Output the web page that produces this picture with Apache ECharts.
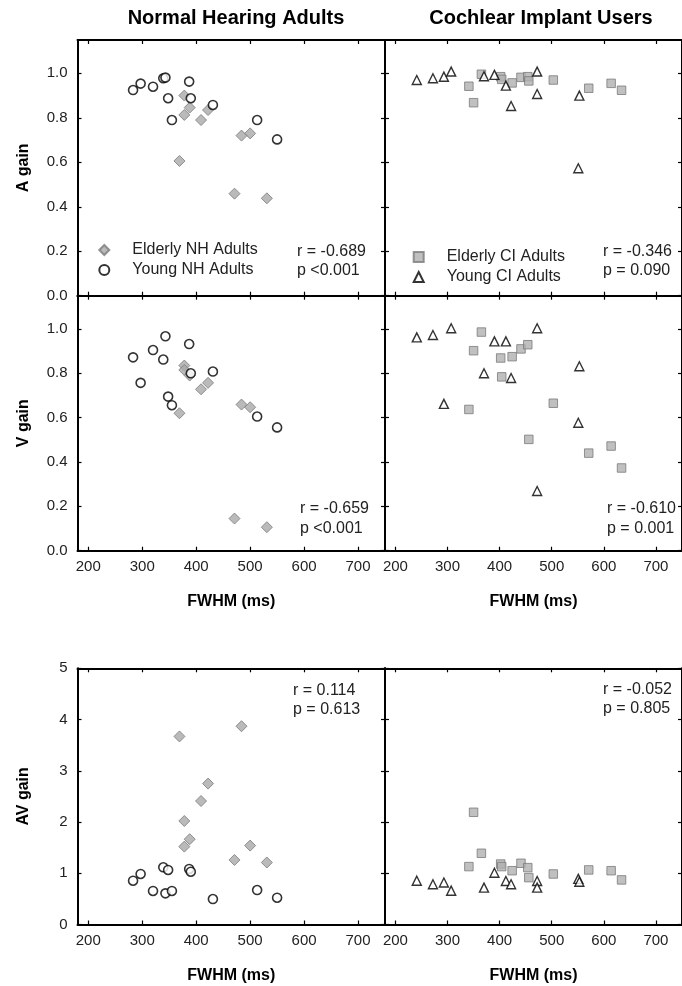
<!DOCTYPE html>
<html><head><meta charset="utf-8">
<script src="https://cdn.jsdelivr.net/npm/echarts@6/dist/echarts.min.js"></script>
<style>html,body{margin:0;padding:0;background:#fff}#c{width:682px;height:986px}</style>
</head><body><div id="c"></div>
<script>
// ---- Data ----
const xTicks = [200, 300, 400, 500, 600, 700];
const gainTicks = [0, 0.2, 0.4, 0.6, 0.8, 1.0];
const avTicks = [0, 1, 2, 3, 4, 5];

const nhElderlyFWHM = [369, 378, 378, 388, 409, 422, 471, 484, 500, 531];
const nhElderlyA    = [0.606, 0.90, 0.813, 0.846, 0.79, 0.835, 0.459, 0.72, 0.73, 0.438];
const nhElderlyV    = [0.62, 0.835, 0.815, 0.79, 0.728, 0.757, 0.145, 0.659, 0.647, 0.106];
const nhElderlyAV   = [3.67, 2.02, 1.52, 1.665, 2.41, 2.75, 1.26, 3.87, 1.54, 1.21];

const nhYoungFWHM = [283, 297, 320, 339, 343, 348, 355, 387, 390, 431, 513, 550];
const nhYoungA    = [0.925, 0.954, 0.94, 0.978, 0.981, 0.888, 0.79, 0.963, 0.888, 0.858, 0.79, 0.703];
const nhYoungV    = [0.872, 0.757, 0.905, 0.862, 0.967, 0.695, 0.656, 0.932, 0.80, 0.808, 0.605, 0.556];
const nhYoungAV   = [0.855, 0.986, 0.654, 1.117, 0.608, 1.065, 0.654, 1.084, 1.03, 0.497, 0.673, 0.523];

const ciElderlyFWHM = [341, 350, 365, 402, 404, 424, 441, 454, 456, 503, 571, 614, 634];
const ciElderlyA    = [0.942, 0.868, 0.996, 0.985, 0.973, 0.957, 0.982, 0.985, 0.966, 0.97, 0.933, 0.955, 0.924];
const ciElderlyV    = [0.637, 0.902, 0.986, 0.869, 0.784, 0.875, 0.91, 0.929, 0.502, 0.665, 0.44, 0.472, 0.373];
const ciElderlyAV   = [1.13, 2.19, 1.39, 1.18, 1.13, 1.05, 1.195, 1.11, 0.915, 0.986, 1.065, 1.05, 0.87];

const ciYoungFWHM = [241, 272, 293, 307, 370, 390, 412, 422, 472, 472, 551, 553];
const ciYoungA    = [0.97, 0.978, 0.985, 1.008, 0.987, 0.993, 0.945, 0.853, 1.008, 0.907, 0.573, 0.90];
const ciYoungV    = [0.962, 0.973, 0.662, 1.003, 0.80, 0.944, 0.944, 0.779, 1.003, 0.269, 0.577, 0.832];
const ciYoungAV   = [0.855, 0.785, 0.82, 0.66, 0.72, 1.01, 0.85, 0.785, 0.85, 0.72, 0.89, 0.835];

const statsText = [
  ['r = -0.689', 'p <0.001'], ['r = -0.346', 'p = 0.090'],
  ['r = -0.659', 'p <0.001'], ['r = -0.610', 'p = 0.001'],
  ['r = 0.114', 'p = 0.613'], ['r = -0.052', 'p = 0.805']
];

// ---- Layout ----
const FONT = '"Liberation Sans", Arial, sans-serif';
const gridDefs = [
  {left: 77.5, top: 40, width: 307.5, height: 255.7},
  {left: 385, top: 40, width: 307.5, height: 255.7},
  {left: 77.5, top: 295.7, width: 307.5, height: 255},
  {left: 385, top: 295.7, width: 307.5, height: 255},
  {left: 77.5, top: 668.3, width: 307.5, height: 256.2},
  {left: 385, top: 668.3, width: 307.5, height: 256.2}
];
const statPos = [
  [297, 253, 272], [603, 253, 272],
  [300, 510, 529.5], [607, 510, 530],
  [293, 692, 711], [603, 691, 710]
];

const zip = (xs, ys) => xs.map((x, i) => [x, ys[i]]);
const lineStyle = {color: '#000', width: 2};
const tickStyle = {color: '#000', width: 1.2};

const xAxis = [], yAxis = [], series = [];
gridDefs.forEach((g, i) => {
  const left = i % 2 === 0;
  const row = Math.floor(i / 2);
  const showX = row >= 1;
  const isAV = row === 2;
  xAxis.push({
    gridIndex: i, type: 'value', min: 180, max: 750, position: 'bottom',
    axisLine: {show: true, lineStyle, onZero: false},
    axisTick: {show: true, inside: true, length: 4, lineStyle: tickStyle, customValues: xTicks},
    axisLabel: {show: showX, customValues: xTicks, color: '#222', fontSize: 15, fontFamily: FONT, margin: 9},
    splitLine: {show: false},
    name: showX ? 'FWHM (ms)' : '', nameLocation: 'middle', nameGap: 43,
    nameTextStyle: {fontSize: 16, fontWeight: 'bold', color: '#000', fontFamily: FONT}
  });
  xAxis.push({
    gridIndex: i, type: 'value', min: 180, max: 750, position: 'top',
    axisLine: {show: true, lineStyle, onZero: false},
    axisTick: {show: true, inside: true, length: 4, lineStyle: tickStyle, customValues: xTicks},
    axisLabel: {show: false}, splitLine: {show: false}
  });
  const yt = isAV ? avTicks : gainTicks;
  const yname = ['A gain', 'V gain', 'AV gain'][row];
  yAxis.push({
    gridIndex: i, type: 'value', min: 0, max: isAV ? 5 : 1.15, position: 'left',
    axisLine: {show: true, lineStyle, onZero: false},
    axisTick: {show: true, inside: true, length: 4, lineStyle: tickStyle, customValues: yt},
    axisLabel: {show: left, customValues: yt, color: '#222', fontSize: 15, fontFamily: FONT, margin: 10,
      formatter: v => isAV ? String(v) : v.toFixed(1)},
    splitLine: {show: false},
    name: left ? yname : '', nameLocation: 'middle', nameGap: 46, nameRotate: 90,
    nameTextStyle: {fontSize: 16, fontWeight: 'bold', color: '#000', fontFamily: FONT}
  });
  yAxis.push({
    gridIndex: i, type: 'value', min: 0, max: isAV ? 5 : 1.15, position: 'right',
    axisLine: {show: true, lineStyle, onZero: false},
    axisTick: {show: true, inside: true, length: 4, lineStyle: tickStyle, customValues: yt},
    axisLabel: {show: false}, splitLine: {show: false}
  });
});

const diamondStyle = {symbol: 'diamond', symbolSize: 11, itemStyle: {color: '#a9a9a9', borderColor: '#7a7a7a', borderWidth: 1}};
const circleStyle = {symbol: 'circle', symbolSize: 9, itemStyle: {color: '#fff', borderColor: '#000', borderWidth: 1.6}};
const squareStyle = {symbol: 'rect', symbolSize: 8.5, itemStyle: {color: '#b0b0b0', borderColor: '#7a7a7a', borderWidth: 1}};
const triStyle = {symbol: 'triangle', symbolSize: 9, itemStyle: {color: '#fff', borderColor: '#000', borderWidth: 1.4}};

function addSeries(gi, name, xs, ys, st) {
  series.push(Object.assign({
    type: 'scatter', name, xAxisIndex: gi * 2, yAxisIndex: gi * 2, data: zip(xs, ys),
    animation: false, emphasis: {disabled: true}
  }, JSON.parse(JSON.stringify(st))));
}
addSeries(0, 'Elderly NH Adults', nhElderlyFWHM, nhElderlyA, diamondStyle);
addSeries(0, 'Young NH Adults', nhYoungFWHM, nhYoungA, circleStyle);
addSeries(1, 'Elderly CI Adults', ciElderlyFWHM, ciElderlyA, squareStyle);
addSeries(1, 'Young CI Adults', ciYoungFWHM, ciYoungA, triStyle);
addSeries(2, 'Elderly NH Adults', nhElderlyFWHM, nhElderlyV, diamondStyle);
addSeries(2, 'Young NH Adults', nhYoungFWHM, nhYoungV, circleStyle);
addSeries(3, 'Elderly CI Adults', ciElderlyFWHM, ciElderlyV, squareStyle);
addSeries(3, 'Young CI Adults', ciYoungFWHM, ciYoungV, triStyle);
addSeries(4, 'Elderly NH Adults', nhElderlyFWHM, nhElderlyAV, diamondStyle);
addSeries(4, 'Young NH Adults', nhYoungFWHM, nhYoungAV, circleStyle);
addSeries(5, 'Elderly CI Adults', ciElderlyFWHM, ciElderlyAV, squareStyle);
addSeries(5, 'Young CI Adults', ciYoungFWHM, ciYoungAV, triStyle);

const graphics = [];
statsText.forEach((t, i) => {
  const p = statPos[i];
  [t[0], t[1]].forEach((s, k) => graphics.push({
    type: 'text', left: p[0], top: p[1 + k] - 9,
    style: {text: s, font: '16px ' + FONT, fill: '#222'}
  }));
});

const legendCommon = {
  orient: 'vertical', itemWidth: 10, itemHeight: 10, itemGap: 0, padding: 0,
  selectedMode: false,
  textStyle: {fontSize: 16, fontFamily: FONT, color: '#222', lineHeight: 20, padding: [0, 0, 0, 18]}
};

const option = {
  backgroundColor: '#fff',
  animation: false,
  title: [
    {text: 'Normal Hearing Adults', left: 231, top: 3, textAlign: 'center',
      textStyle: {fontSize: 20, fontWeight: 'bold', color: '#000', fontFamily: FONT}},
    {text: 'Cochlear Implant Users', left: 536, top: 3, textAlign: 'center',
      textStyle: {fontSize: 20, fontWeight: 'bold', color: '#000', fontFamily: FONT}}
  ],
  grid: gridDefs.map(g => Object.assign({containLabel: false}, g)),
  xAxis, yAxis, series,
  legend: [
    Object.assign({left: 98.3, top: 240, data: ['Elderly NH Adults', 'Young NH Adults']}, legendCommon),
    Object.assign({left: 412.7, top: 247, data: ['Elderly CI Adults', 'Young CI Adults']}, legendCommon)
  ],
  graphic: graphics
};
const chart = echarts.init(document.getElementById('c'), null, {renderer: 'canvas'});
chart.setOption(option);
</script></body></html>
